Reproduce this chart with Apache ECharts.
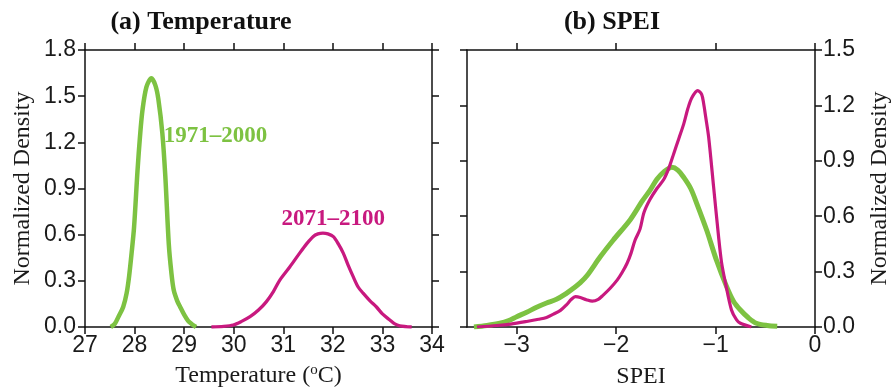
<!DOCTYPE html>
<html>
<head>
<meta charset="utf-8">
<script src="https://cdn.jsdelivr.net/npm/echarts@6/dist/echarts.min.js"></script>
<style>
  html, body { margin: 0; padding: 0; background: #fff; }
  #chart { width: 891px; height: 389px; }
</style>
</head>
<body>
<div id="chart"></div>
<script>
// (a) temperature densities, [degC, density]
const tempHist = [
  [27.52, 0], [27.6, 0.02], [27.68, 0.07], [27.77, 0.13], [27.84, 0.22], [27.89, 0.33],
  [27.94, 0.48], [27.99, 0.65], [28.06, 1.02], [28.11, 1.24], [28.16, 1.41], [28.24, 1.56],
  [28.34, 1.616], [28.42, 1.57], [28.48, 1.48], [28.56, 1.26], [28.62, 0.98], [28.69, 0.54],
  [28.74, 0.36], [28.79, 0.24], [28.86, 0.17], [28.92, 0.13], [29.0, 0.08], [29.08, 0.04],
  [29.15, 0.02], [29.24, 0],
];
const tempFut = [
  [29.55, 0], [29.8, 0.004], [29.99, 0.013], [30.15, 0.035], [30.33, 0.067], [30.5, 0.11],
  [30.66, 0.165], [30.8, 0.23], [30.93, 0.305], [31.13, 0.39], [31.33, 0.48], [31.47, 0.54],
  [31.6, 0.587], [31.7, 0.605], [31.8, 0.61], [31.9, 0.605], [32.01, 0.587], [32.11, 0.54],
  [32.21, 0.48], [32.31, 0.4], [32.41, 0.327], [32.51, 0.26], [32.61, 0.22], [32.75, 0.17],
  [32.88, 0.13], [33.0, 0.085], [33.15, 0.045], [33.25, 0.02], [33.35, 0.008], [33.59, 0],
];
// (b) SPEI densities
const speiHist = [
  [-3.43, 0], [-3.3, 0.008], [-3.17, 0.02], [-3.08, 0.035], [-3.0, 0.056], [-2.9, 0.08],
  [-2.8, 0.107], [-2.7, 0.13], [-2.6, 0.15], [-2.52, 0.175], [-2.43, 0.21], [-2.36, 0.24],
  [-2.29, 0.28], [-2.16, 0.38], [-2.03, 0.47], [-1.86, 0.58], [-1.74, 0.68], [-1.66, 0.74],
  [-1.59, 0.8], [-1.52, 0.84], [-1.44, 0.865], [-1.38, 0.85], [-1.32, 0.81], [-1.25, 0.75],
  [-1.19, 0.67], [-1.09, 0.525], [-0.99, 0.36], [-0.89, 0.22], [-0.82, 0.14], [-0.75, 0.092],
  [-0.67, 0.05], [-0.59, 0.02], [-0.48, 0.008], [-0.38, 0.004],
];
const speiFut = [
  [-3.4, 0], [-3.2, 0.008], [-3.06, 0.016], [-2.9, 0.03], [-2.78, 0.042], [-2.7, 0.052],
  [-2.63, 0.07], [-2.56, 0.09], [-2.5, 0.12], [-2.45, 0.15], [-2.41, 0.164], [-2.36, 0.16],
  [-2.3, 0.148], [-2.24, 0.14], [-2.18, 0.15], [-2.13, 0.173], [-2.06, 0.21], [-1.99, 0.254],
  [-1.94, 0.295], [-1.89, 0.345], [-1.85, 0.4], [-1.81, 0.47], [-1.76, 0.53], [-1.72, 0.62],
  [-1.66, 0.69], [-1.59, 0.75], [-1.52, 0.8], [-1.47, 0.86], [-1.42, 0.94], [-1.37, 1.02],
  [-1.32, 1.1], [-1.28, 1.18], [-1.24, 1.24], [-1.18, 1.28], [-1.14, 1.26], [-1.12, 1.21],
  [-1.1, 1.14], [-1.07, 1.03], [-1.02, 0.76], [-0.97, 0.49], [-0.94, 0.35], [-0.9, 0.237],
  [-0.84, 0.092], [-0.79, 0.04], [-0.75, 0.02], [-0.64, 0],
];
const speiTicks = [-3, -2, -1, 0];
// period labels, anchored in data coords of panel (a)
const periodLabels = [
  { text: '1971\u20132000', coord: [28.59, 1.24], align: 'left', color: '#7dc242' },
  { text: '2071\u20132100', coord: [32.01, 0.70], align: 'center', color: '#c8197f' },
];

const GREEN = '#7dc242';
const MAGENTA = '#c8197f';
const SANS = 'Liberation Sans, Arial, sans-serif';
const SERIF = 'Liberation Serif, Times New Roman, serif';

function frameAxis(extra) {
  return Object.assign({
    type: 'value',
    axisLine: { show: true, onZero: false, lineStyle: { color: '#111', width: 1.5 } },
    axisTick: { show: true, inside: false, length: 7, lineStyle: { color: '#111', width: 1.5 } },
    axisLabel: { show: false },
    splitLine: { show: false },
  }, extra);
}

const tickLabel = { show: true, fontFamily: SANS, fontSize: 23, color: '#1a1a1a' };
const axisName = { fontFamily: SERIF, fontSize: 24, color: '#1a1a1a' };

const chart = echarts.init(document.getElementById('chart'));

chart.setOption({
  animation: false,
  grid: [
    { left: 85, top: 50, width: 347, height: 277, outerBoundsMode: 'none' },
    { left: 467, top: 50, width: 348, height: 277, outerBoundsMode: 'none' },
  ],
  xAxis: [
    frameAxis({
      gridIndex: 0, position: 'bottom', min: 27, max: 34, interval: 1,
      axisLabel: Object.assign({}, tickLabel, { margin: 7 }),
      name: 'Temperature ({sup|o}C)', nameLocation: 'middle', nameGap: 36,
      nameTextStyle: Object.assign({}, axisName, {
        rich: { sup: { fontFamily: SERIF, fontSize: 15, color: '#1a1a1a', verticalAlign: 'top', padding: [0, 0, 10, 0] } },
      }),
    }),
    frameAxis({ gridIndex: 0, position: 'top', min: 27, max: 34, interval: 1 }),
    frameAxis({
      gridIndex: 1, position: 'bottom', min: -3.5, max: 0,
      axisTick: { show: true, inside: false, length: 7, customValues: speiTicks, lineStyle: { color: '#111', width: 1.5 } },
      axisLabel: Object.assign({}, tickLabel, {
        margin: 7, customValues: speiTicks,
        formatter: (v) => String(v).replace('-', '\u2212'),
      }),
      name: 'SPEI', nameLocation: 'middle', nameGap: 38, nameTextStyle: axisName,
    }),
    frameAxis({
      gridIndex: 1, position: 'top', min: -3.5, max: 0,
      axisTick: { show: true, inside: false, length: 7, customValues: speiTicks, lineStyle: { color: '#111', width: 1.5 } },
    }),
  ],
  yAxis: [
    frameAxis({
      gridIndex: 0, position: 'left', min: 0, max: 1.8, interval: 0.3,
      axisLabel: Object.assign({}, tickLabel, { margin: 9, formatter: (v) => v.toFixed(1) }),
      name: 'Normalized Density', nameLocation: 'middle', nameGap: 50, nameRotate: 90,
      nameTextStyle: axisName,
    }),
    frameAxis({ gridIndex: 0, position: 'right', min: 0, max: 1.8, interval: 0.3 }),
    frameAxis({ gridIndex: 1, position: 'left', min: 0, max: 1.5, interval: 0.3 }),
    frameAxis({
      gridIndex: 1, position: 'right', min: 0, max: 1.5, interval: 0.3,
      axisLabel: Object.assign({}, tickLabel, { margin: 8, formatter: (v) => v.toFixed(1) }),
      name: 'Normalized Density', nameLocation: 'middle', nameGap: 53, nameRotate: 90,
      nameTextStyle: axisName,
    }),
  ],
  series: [
    { type: 'line', xAxisIndex: 0, yAxisIndex: 0, data: tempHist, smooth: 0.3, showSymbol: false,
      lineStyle: { color: GREEN, width: 4.5 }, z: 3 },
    { type: 'line', xAxisIndex: 0, yAxisIndex: 0, data: tempFut, smooth: 0.3, showSymbol: false,
      lineStyle: { color: MAGENTA, width: 3.3 }, z: 3 },
    { type: 'line', xAxisIndex: 2, yAxisIndex: 2, data: speiHist, smooth: 0.3, showSymbol: false,
      lineStyle: { color: GREEN, width: 5 }, z: 3 },
    { type: 'line', xAxisIndex: 2, yAxisIndex: 2, data: speiFut, smooth: 0.3, showSymbol: false,
      lineStyle: { color: MAGENTA, width: 3.2 }, z: 4 },
  ],
});

// titles and period labels
const graphics = [
  { type: 'text', x: 201, y: 22, style: { text: '(a) Temperature', font: 'bold 26px ' + SERIF, fill: '#111', align: 'center', verticalAlign: 'middle' } },
  { type: 'text', x: 612, y: 22, style: { text: '(b) SPEI', font: 'bold 26px ' + SERIF, fill: '#111', align: 'center', verticalAlign: 'middle' } },
];
periodLabels.forEach((p) => {
  const pt = chart.convertToPixel({ xAxisIndex: 0, yAxisIndex: 0 }, p.coord);
  graphics.push({
    type: 'text', x: pt[0], y: pt[1],
    style: { text: p.text, font: 'bold 23px ' + SERIF, fill: p.color, align: p.align, verticalAlign: 'middle' },
  });
});
chart.setOption({ graphic: graphics });
</script>
</body>
</html>
